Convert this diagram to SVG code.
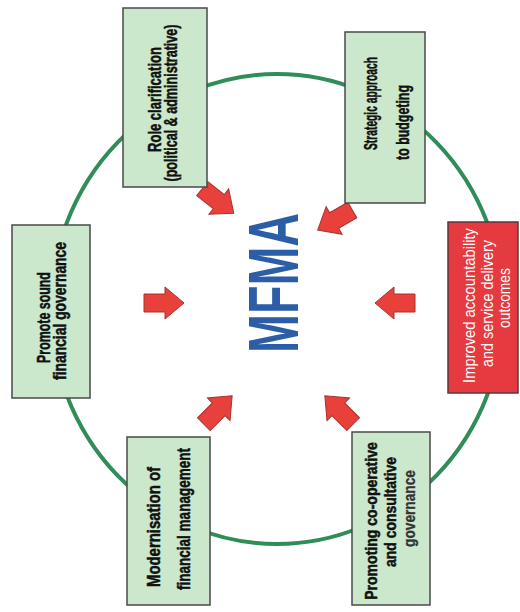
<svg xmlns="http://www.w3.org/2000/svg" width="520" height="612" viewBox="0 0 520 612">
<style>
.box{fill:#cbe8cc;stroke:#4a4a4a;stroke-width:1.5}
.red{fill:#e53a40;stroke:#5a3a3a;stroke-width:1.5}
.lbl{font-family:"Liberation Sans",Arial,sans-serif;font-weight:bold;font-size:18px;fill:#111;stroke:#111;stroke-width:0.5;text-anchor:middle}
.sm{font-size:16px}
.wl{font-family:"Liberation Sans",Arial,sans-serif;font-size:17px;fill:#fff;text-anchor:middle}
.arr{fill:#e8413c;stroke:#a8322e;stroke-width:1}
</style>
<defs>
<path id="arrow" d="M-20,-9 L1,-9 L1,-16 L20,0 L1,16 L1,9 L-20,9 Z"/>
</defs>
<rect width="520" height="612" fill="#fff"/>
<g id="ring">
<ellipse cx="277" cy="309" rx="226" ry="235" fill="none" stroke="#2f8d57" stroke-width="4"/>
</g>
<g id="connectors">
<use href="#arrow" class="arr" transform="translate(218,201) rotate(38)"/>
<use href="#arrow" class="arr" transform="translate(335,220) rotate(150)"/>
<use href="#arrow" class="arr" transform="translate(395,303) rotate(180)"/>
<use href="#arrow" class="arr" transform="translate(164,303)"/>
<use href="#arrow" class="arr" transform="translate(218,410) rotate(-45)"/>
<use href="#arrow" class="arr" transform="translate(339,410) rotate(-135)"/>
</g>
<g id="mfma">
<text transform="translate(298,283) rotate(-90) scale(0.667,1)" font-family="Liberation Sans,Arial,sans-serif" font-weight="bold" font-size="70" fill="#2b5ea6" text-anchor="middle">MFMA</text>
</g>
<g id="role">
<rect class="box" x="123" y="8" width="84" height="179"/>
<text class="lbl" transform="translate(161,99.5) rotate(-90) scale(0.724,1)">Role clarification</text>
<text class="lbl" transform="translate(177,103) rotate(-90) scale(0.698,1)">(political &amp; administrative)</text>
</g>
<g id="strategic">
<rect class="box" x="345" y="32" width="80" height="171"/>
<text class="lbl" transform="translate(377,103.5) rotate(-90) scale(0.571,1)">Strategic approach</text>
<text class="lbl" transform="translate(409,122.5) rotate(-90) scale(0.688,1)">to budgeting</text>
</g>
<g id="improved">
<rect class="red" x="448" y="222" width="70" height="171"/>
<text class="wl" transform="translate(475,305.5) rotate(-90) scale(0.868,1)">Improved accountability</text>
<text class="wl" transform="translate(493,303.5) rotate(-90) scale(0.845,1)">and service delivery</text>
<text class="wl" transform="translate(510,298) rotate(-90) scale(0.814,1)">outcomes</text>
</g>
<g id="promote">
<rect class="box" x="12" y="225" width="78" height="173"/>
<text class="lbl" transform="translate(50,317.5) rotate(-90) scale(0.689,1)">Promote sound</text>
<text class="lbl" transform="translate(66,311) rotate(-90) scale(0.771,1)">financial governance</text>
</g>
<g id="modernisation">
<rect class="box" x="127" y="437" width="83" height="168"/>
<text class="lbl" transform="translate(160,527) rotate(-90) scale(0.828,1)">Modernisation of</text>
<text class="lbl" transform="translate(190,519) rotate(-90) scale(0.751,1)">financial management</text>
</g>
<g id="promoting">
<rect class="box" x="352" y="432" width="78" height="173"/>
<text class="lbl sm" transform="translate(377,521) rotate(-90) scale(0.878,1)">Promoting co-operative</text>
<text class="lbl sm" transform="translate(396,512) rotate(-90) scale(0.872,1)">and consultative</text>
<text class="lbl sm" style="fill:#333;stroke:#333;stroke-width:0.3" transform="translate(415,508.5) rotate(-90) scale(0.857,1)">governance</text>
</g>
</svg>
